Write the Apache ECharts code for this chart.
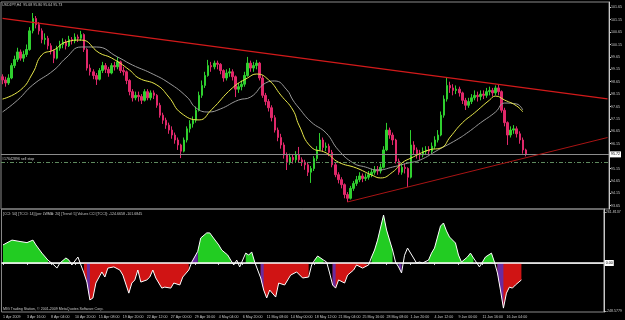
<!DOCTYPE html>
<html>
<head>
<meta charset="utf-8">
<style>
  html, body { margin: 0; padding: 0; background: #000; }
  #chart { width: 625px; height: 320px; }
</style>
<script src="https://cdn.jsdelivr.net/npm/echarts@6/dist/echarts.min.js"></script>
</head>
<body>
<div id="chart"></div>
<script>
// USDJPY H4 chart, candles merged into 8 hour bars (one slot = two H4 bars)
const tickLabels = ["1 Apr 2009", "3 Apr 16:00", "8 Apr 04:00", "10 Apr 20:00", "15 Apr 08:00",
    "19 Apr 20:00", "22 Apr 12:00", "27 Apr 00:00", "29 Apr 16:00", "4 May 04:00", "6 May 20:00",
    "11 May 08:00", "14 May 00:00", "18 May 12:00", "21 May 04:00", "25 May 16:00", "28 May 08:00",
    "1 Jun 20:00", "4 Jun 12:00", "9 Jun 00:00", "11 Jun 16:00", "16 Jun 04:00"];
const priceTicks = [93.65, 94.15, 94.65, 95.15, 95.65, 96.15, 96.65, 97.15, 97.65,
    98.15, 98.65, 99.15, 99.65, 100.15, 100.65, 101.15, 101.65];
const cciTicks = [-248.5779, 261.8137];

// [open, close, low, high]
const candles = [
    [98.85,98.72,98.55,98.95],[98.72,98.60,98.45,98.85],[98.60,98.80,98.52,98.95],[98.80,99.30,98.75,99.40],[99.30,99.55,99.20,99.70],[99.55,99.85,99.45,100.02],
    [99.85,99.60,99.50,99.95],[99.60,99.75,99.45,99.90],[99.75,99.95,99.65,100.15],[99.95,100.70,99.90,100.85],[100.70,101.20,100.60,101.42],[101.20,100.95,100.80,101.30],
    [100.95,100.70,100.55,101.05],[100.70,100.35,100.20,100.80],[100.35,100.40,100.15,100.60],[100.40,100.10,99.95,100.50],[100.10,99.90,99.75,100.20],[99.90,99.60,99.40,99.95],
    [99.60,100.00,99.55,100.10],[100.00,100.15,99.90,100.30],[100.15,100.25,100.00,100.40],[100.25,100.10,99.95,100.35],[100.10,100.35,100.05,100.50],[100.35,100.30,100.15,100.45],
    [100.30,100.45,100.20,100.60],[100.45,100.40,100.25,100.55],[100.40,100.55,100.30,100.70],[100.55,99.95,99.85,100.60],[99.95,99.20,99.10,100.00],[99.20,99.05,98.90,99.35],
    [99.05,98.90,98.75,99.15],[98.90,98.75,98.52,99.00],[98.75,99.10,98.70,99.20],[99.10,99.30,99.00,99.45],[99.30,99.15,99.00,99.40],[99.15,99.00,98.85,99.25],
    [99.00,99.30,98.95,99.40],[99.30,99.25,99.10,99.45],[99.25,99.45,99.15,99.65],[99.45,99.10,99.00,99.50],[99.10,99.05,98.90,99.25],[99.05,98.70,98.55,99.10],
    [98.70,98.25,98.10,98.75],[98.25,98.00,97.85,98.35],[98.00,98.10,97.90,98.25],[98.10,98.05,97.85,98.25],[98.05,97.90,97.75,98.15],[97.90,98.25,97.85,98.35],
    [98.25,98.00,97.90,98.35],[98.00,98.20,97.90,98.30],[98.20,98.10,97.95,98.30],[98.10,97.70,97.60,98.15],[97.70,97.30,97.20,97.80],[97.30,97.10,96.95,97.40],
    [97.10,96.90,96.75,97.20],[96.90,96.70,96.55,97.00],[96.70,96.50,96.35,96.85],[96.50,96.30,96.15,96.60],[96.30,96.10,95.90,96.40],[96.10,95.85,95.57,96.15],
    [95.85,96.30,95.80,96.40],[96.30,96.75,96.20,96.85],[96.75,96.95,96.60,97.10],[96.95,97.10,96.80,97.25],[97.10,97.50,97.00,97.65],[97.50,98.10,97.45,98.25],
    [98.10,98.50,98.00,98.70],[98.50,98.90,98.40,99.05],[98.90,99.30,98.85,99.53],[99.30,99.25,99.05,99.45],[99.25,99.40,99.15,99.50],[99.40,99.35,99.15,99.50],
    [99.35,99.10,98.95,99.40],[99.10,98.80,98.65,99.15],[98.80,99.00,98.70,99.15],[99.00,99.05,98.85,99.20],[99.05,98.85,98.70,99.15],[98.85,98.35,98.03,98.90],
    [98.35,98.45,98.20,98.60],[98.45,98.55,98.30,98.70],[98.55,98.90,98.45,99.05],[98.90,99.40,98.85,99.65],[99.40,99.20,99.05,99.50],[99.20,99.30,99.05,99.45],
    [99.30,99.40,99.15,99.53],[99.40,98.80,98.70,99.45],[98.80,98.10,98.00,98.90],[98.10,97.85,97.70,98.20],[97.85,97.60,97.45,97.95],[97.60,97.20,97.05,97.70],
    [97.20,96.70,96.60,97.30],[96.70,96.40,96.25,96.80],[96.40,96.10,95.95,96.55],[96.10,95.70,95.55,96.20],[95.70,95.40,95.09,95.80],[95.40,95.60,95.30,95.75],
    [95.60,95.50,95.35,95.70],[95.50,95.70,95.40,95.85],[95.70,95.50,95.40,96.02],[95.50,95.40,95.25,95.60],[95.40,95.30,95.10,95.50],[95.30,95.00,94.85,95.40],
    [95.00,95.15,94.57,95.25],[95.15,95.55,95.05,95.65],[95.55,95.90,95.45,96.05],[95.90,96.30,95.85,96.58],[96.30,96.00,95.85,96.40],[96.00,96.05,95.85,96.20],
    [96.05,95.80,95.65,96.15],[95.80,95.30,95.20,95.90],[95.30,94.90,94.80,95.40],[94.90,94.70,94.55,95.00],[94.70,94.50,94.35,94.80],[94.50,94.10,93.95,94.55],
    [94.10,93.95,93.80,94.20],[93.95,94.35,93.90,94.45],[94.35,94.55,94.25,94.65],[94.55,94.70,94.45,94.85],[94.70,94.85,94.60,95.00],[94.85,94.75,94.60,94.95],
    [94.75,94.80,94.65,94.95],[94.80,94.90,94.70,95.05],[94.90,95.00,94.80,95.15],[95.00,95.10,94.90,95.25],[95.10,95.05,94.90,95.25],[95.05,95.20,94.95,95.35],
    [95.20,95.90,95.15,96.05],[95.90,96.70,95.85,96.99],[96.70,96.50,96.35,96.80],[96.50,96.30,96.10,96.60],[96.30,95.45,95.35,96.35],[95.45,95.00,94.90,95.55],
    [95.00,95.20,94.90,95.35],[95.20,95.15,94.95,95.35],[95.15,94.80,94.40,95.20],[94.80,96.10,94.75,96.70],[96.10,95.90,95.70,96.25],[95.90,95.75,95.55,96.00],
    [95.75,95.70,95.50,95.90],[95.70,95.85,95.60,96.00],[95.85,95.90,95.70,96.05],[95.90,95.85,95.70,96.05],[95.85,96.05,95.75,96.20],[96.05,96.30,95.95,96.45],
    [96.30,96.50,96.20,96.70],[96.50,97.30,96.45,97.45],[97.30,97.95,97.20,98.10],[97.95,98.50,97.85,98.84],[98.50,98.40,98.20,98.65],[98.40,98.30,98.10,98.55],
    [98.30,98.35,98.15,98.50],[98.35,98.20,98.05,98.45],[98.20,97.90,97.75,98.25],[97.90,97.70,97.51,98.00],[97.70,97.85,97.60,98.00],[97.85,98.00,97.75,98.15],
    [98.00,98.10,97.90,98.30],[98.10,98.05,97.85,98.25],[98.05,98.15,97.90,98.30],[98.15,98.10,97.95,98.30],[98.10,98.25,98.00,98.40],[98.25,98.30,98.10,98.45],
    [98.30,98.20,98.05,98.40],[98.20,98.40,98.10,98.50],[98.40,98.25,98.10,98.52],[98.25,97.50,97.40,98.30],[97.50,97.00,96.85,97.60],[97.00,96.50,96.10,97.05],
    [96.50,96.70,96.40,96.85],[96.70,96.75,96.55,96.90],[96.75,96.55,96.40,96.85],[96.55,96.30,96.15,96.65],[96.30,95.90,95.75,96.40],[95.90,95.73,95.64,95.95]
];

// moving averages, read at some bars only
const fastMaBar = [0, 6, 10, 13, 17, 21, 26, 32, 36, 42, 45, 51, 55, 59, 65, 69, 76, 81, 84, 88, 92, 96, 98,
    102, 107, 111, 117, 122, 125, 129, 132, 135, 141, 145, 148, 152, 156, 161, 163, 166, 170, 172];
const fastMaValue = [97.95, 98.32, 99.00, 99.73, 99.93, 100.25, 100.33, 99.81, 99.61, 99.12, 98.80, 98.52, 98.03,
    97.39, 97.11, 97.51, 98.40, 98.80, 98.96, 98.72, 98.11, 97.51, 96.90, 96.02, 95.78, 95.41, 95.17, 94.89,
    94.77, 95.01, 95.37, 95.57, 95.90, 95.98, 96.42, 96.99, 97.39, 97.91, 98.07, 97.91, 97.67, 97.43];
const slowMaBar = [0, 5, 10, 17, 21, 26, 31, 38, 43, 49, 55, 61, 64, 68, 72, 78, 82, 87, 90, 94, 96, 98, 102,
    107, 111, 116, 120, 124, 129, 134, 138, 144, 150, 154, 158, 163, 166, 170, 172];
const slowMaValue = [97.43, 97.91, 98.52, 99.12, 99.61, 100.05, 100.05, 99.65, 99.32, 99.00, 98.60, 98.03, 97.59,
    97.43, 97.55, 97.91, 98.03, 98.60, 98.68, 98.32, 97.91, 97.59, 97.03, 96.58, 95.90, 95.37, 95.21, 95.09,
    95.21, 95.37, 95.49, 95.90, 96.30, 96.62, 96.99, 97.43, 97.79, 97.75, 97.51];

// trend lines drawn on the chart
const upperTrendBar = [0, 200];
const upperTrendValue = [101.20, 97.96];
const lowerTrendBar = [114, 200];
const lowerTrendValue = [93.80, 96.40];

const bidPrice = 95.72;
const sellStopPrice = 95.40;

// CCI sub window
const cciBar = [0, 3, 6, 8, 10, 11, 13, 15, 17, 18, 19, 21, 22, 23, 25, 26, 27, 28, 29, 30, 31, 33, 34, 35, 37,
    39, 40, 42, 43, 44, 45, 46, 48, 49, 50, 51, 53, 54, 56, 57, 59, 60, 62, 63, 65, 66, 68, 69, 70, 72, 73, 75,
    76, 77, 78, 79, 81, 82, 83, 84, 85, 86, 87, 88, 89, 91, 92, 94, 96, 98, 100, 102, 103, 104, 105, 107, 108,
    109, 110, 111, 112, 114, 115, 117, 118, 120, 122, 123, 124, 125, 127, 128, 130, 131, 132, 133, 134, 135,
    137, 138, 139, 140, 142, 143, 144, 146, 147, 148, 149, 151, 152, 153, 155, 156, 157, 159, 160, 161, 163,
    164, 165, 166, 167, 168, 169, 170, 171, 173];
const cciValue = [93, 118, 110, 105, 118, 93, 51, 15, -10, -26, 0, 26, 15, -10, 31, -10, -51, -98, -190, -180,
    -103, -46, -72, -26, -20, -36, -62, -155, -103, -87, -36, -98, -87, -72, -36, -77, -129, -124, -129, -103,
    -113, -72, -36, 5, 60, 129, 155, 155, 134, 93, 67, 41, 15, -10, 15, -20, 51, 41, 57, 5, -36, -77, -139,
    -180, -139, -175, -103, -113, -62, -46, -77, -72, -10, 15, 36, 15, 5, -51, -113, -129, -87, -103, -62, -36,
    -10, -26, -10, 31, 67, 118, 247, 170, 67, 5, -20, -51, 40, 77, 26, 0, 5, 0, 15, 51, 77, 190, 206, 165, 134,
    103, 41, 5, 31, 51, 26, -20, 5, 31, 51, 5, -51, -139, -232, -155, -124, -129, -113, -87];
const greenRuns = [[0, 15], [19, 22], [65, 76], [81, 84], [104, 107], [123, 130], [142, 157], [160, 164]];
const redRuns = [[27, 62], [86, 102], [110, 122], [165, 173]];
const purpleRuns = [[28, 29], [63, 65], [86, 87], [110, 111], [132, 133], [165, 167]];

const slotCount = 201;
const slots = Array.from({ length: slotCount }, (_, i) => String(i));

const font = "Liberation Sans";
const smallText = { fontFamily: font, fontSize: 3.6, color: "#c8c8c8" };

const pairs = (xs, ys) => xs.map((x, k) => [x, ys[k]]);
const cciPoints = pairs(cciBar, cciValue);

const runSeries = (runs, color) =>
    runs.map(([from, to]) => ({
        type: "line",
        xAxisIndex: 1,
        yAxisIndex: 1,
        data: cciPoints.filter(p => p[0] >= from && p[0] <= to),
        showSymbol: false,
        silent: true,
        lineStyle: { width: 0 },
        areaStyle: { color: color, opacity: 1 },
        z: 2
    }));

const chart = echarts.init(document.getElementById("chart"), null, { renderer: "canvas" });

const option = {
    backgroundColor: "#000",
    animation: false,
    title: {
        text: "USDJPY,H4  95.68 95.80 95.64 95.73",
        left: 2,
        top: 3,
        padding: 0,
        textStyle: Object.assign({}, smallText, { fontWeight: "normal" })
    },
    graphic: [
        {
            type: "text",
            left: 3,
            top: 212,
            style: Object.assign({}, smallText, {
                text: "[CCI: 50] [TCCI: 14] [per LWMA: 20] [Trend: 5] Values CCI [TCCI]: -124.6658 -101.6845",
                fill: "#c8c8c8"
            })
        },
        {
            type: "text",
            left: 3,
            top: 307,
            style: Object.assign({}, smallText, {
                text: "MIG Trading Station, \u00a9 2001-2009 MetaQuotes Software Corp.",
                fill: "#c8c8c8"
            })
        }
    ],
    grid: [
        { left: 1, top: 2, width: 610, height: 207, show: true, borderColor: "#8a8a8a", borderWidth: 1 },
        { left: 1, top: 209, width: 610, height: 103, show: true, borderColor: "#8a8a8a", borderWidth: 1 }
    ],
    xAxis: [
        {
            type: "category",
            gridIndex: 0,
            data: slots,
            axisLine: { show: false },
            axisTick: { show: false },
            axisLabel: { show: false },
            splitLine: { show: false }
        },
        {
            type: "category",
            gridIndex: 1,
            data: slots,
            axisLine: { show: true, lineStyle: { color: "#8a8a8a", width: 1 } },
            axisTick: {
                show: true,
                alignWithLabel: true,
                length: 2,
                interval: idx => idx % 8 === 0 && idx / 8 < tickLabels.length,
                lineStyle: { color: "#c8c8c8" }
            },
            axisLabel: Object.assign({}, smallText, {
                interval: idx => idx % 8 === 0 && idx / 8 < tickLabels.length,
                align: "left",
                margin: 3,
                formatter: (value, idx) => tickLabels[idx / 8] || ""
            }),
            splitLine: { show: false }
        }
    ],
    yAxis: [
        {
            type: "value",
            gridIndex: 0,
            position: "right",
            min: 93.518,
            max: 101.864,
            axisLine: { show: true, lineStyle: { color: "#c8c8c8", width: 1 } },
            axisTick: { show: true, length: 2, customValues: priceTicks, lineStyle: { color: "#c8c8c8" } },
            axisLabel: Object.assign({}, smallText, {
                customValues: priceTicks,
                margin: 2,
                formatter: v => v.toFixed(2)
            }),
            splitLine: { show: false }
        },
        {
            type: "value",
            gridIndex: 1,
            position: "right",
            min: -252,
            max: 278,
            axisLine: { show: true, lineStyle: { color: "#c8c8c8", width: 1 } },
            axisTick: { show: true, length: 2, customValues: cciTicks, lineStyle: { color: "#c8c8c8" } },
            axisLabel: Object.assign({}, smallText, {
                customValues: cciTicks,
                margin: 2,
                formatter: v => v.toFixed(4)
            }),
            splitLine: { show: false }
        }
    ],
    series: [
        {
            name: "USDJPY",
            type: "candlestick",
            xAxisIndex: 0,
            yAxisIndex: 0,
            data: candles,
            barWidth: 2,
            itemStyle: {
                color: "#2fcf2f",
                color0: "#e0286a",
                borderColor: "#2fcf2f",
                borderColor0: "#e0286a",
                borderWidth: 1
            },
            z: 3
        },
        {
            name: "slow MA",
            type: "line",
            xAxisIndex: 0,
            yAxisIndex: 0,
            data: pairs(slowMaBar, slowMaValue),
            smooth: true,
            showSymbol: false,
            silent: true,
            lineStyle: { color: "#9a9a9a", width: 1 },
            z: 4
        },
        {
            name: "fast MA",
            type: "line",
            xAxisIndex: 0,
            yAxisIndex: 0,
            data: pairs(fastMaBar, fastMaValue),
            smooth: true,
            showSymbol: false,
            silent: true,
            lineStyle: { color: "#e8e84a", width: 1 },
            z: 5,
            markLine: {
                silent: true,
                symbol: "none",
                data: [
                    {
                        yAxis: bidPrice,
                        lineStyle: { color: "#8c8c8c", width: 1, type: "solid" },
                        label: {
                            show: true,
                            position: "end",
                            distance: 1,
                            formatter: bidPrice.toFixed(2),
                            backgroundColor: "#fff",
                            color: "#000",
                            fontFamily: font,
                            fontSize: 3.6,
                            padding: [1, 1]
                        }
                    },
                    {
                        yAxis: sellStopPrice,
                        lineStyle: { color: "#5e8a5e", width: 1, type: [4, 2, 1, 2] },
                        label: {
                            show: true,
                            position: "insideStartTop",
                            distance: 1,
                            formatter: "#17642896 sell stop",
                            color: "#c8c8c8",
                            fontFamily: font,
                            fontSize: 3.6
                        }
                    }
                ]
            }
        },
        {
            name: "upper trend",
            type: "line",
            xAxisIndex: 0,
            yAxisIndex: 0,
            data: pairs(upperTrendBar, upperTrendValue),
            showSymbol: false,
            silent: true,
            lineStyle: { color: "#d21a1a", width: 1.2 },
            z: 6
        },
        {
            name: "lower trend",
            type: "line",
            xAxisIndex: 0,
            yAxisIndex: 0,
            data: pairs(lowerTrendBar, lowerTrendValue),
            showSymbol: false,
            silent: true,
            lineStyle: { color: "#a81414", width: 1 },
            z: 6
        },
        ...runSeries(greenRuns, "#22cc22"),
        ...runSeries(redRuns, "#d01414"),
        ...runSeries(purpleRuns, "#6a2ca0"),
        {
            name: "CCI",
            type: "line",
            xAxisIndex: 1,
            yAxisIndex: 1,
            data: cciPoints,
            showSymbol: false,
            silent: true,
            lineStyle: { color: "#ffffff", width: 1 },
            z: 4,
            markLine: {
                silent: true,
                symbol: "none",
                data: [
                    {
                        yAxis: 0,
                        lineStyle: { color: "#ffffff", width: 1.5, type: "solid" },
                        label: {
                            show: true,
                            position: "end",
                            distance: 1,
                            formatter: "0.00",
                            backgroundColor: "#fff",
                            color: "#000",
                            fontFamily: font,
                            fontSize: 3.6,
                            padding: [1, 1]
                        }
                    }
                ]
            }
        }
    ]
};

chart.setOption(option);
</script>
</body>
</html>
